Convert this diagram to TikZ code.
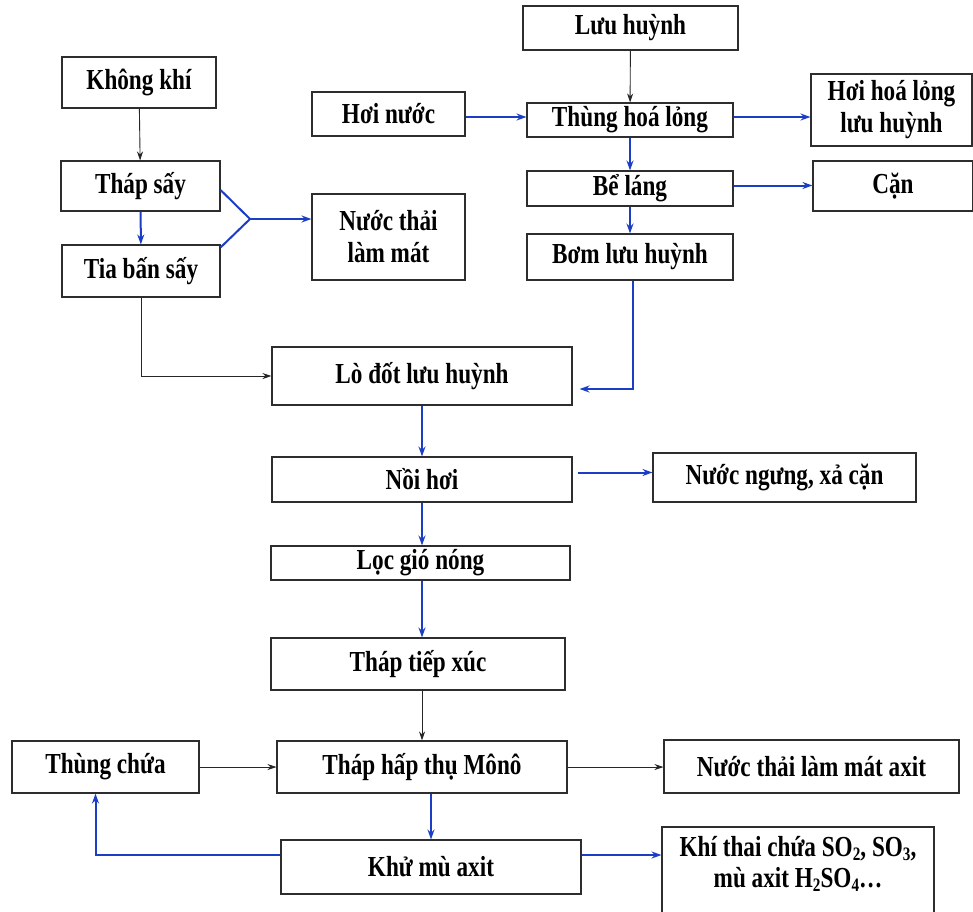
\documentclass[tikz,border=0pt]{standalone}
\usepackage{fontspec}
\setmainfont{Liberation Serif}[FakeStretch=0.8]
\usetikzlibrary{arrows.meta,calc}
\definecolor{flowblue}{RGB}{28,62,196}
\definecolor{edgegray}{RGB}{45,45,45}
\newcommand\lowsub[1]{\raisebox{-0.35ex}{\fontsize{19}{19}\selectfont #1}}
\begin{document}
\begin{tikzpicture}[x=1pt,y=-1pt,
  box/.style={draw=edgegray,line width=1.1pt,inner sep=0pt,align=center,
    font=\bfseries\fontsize{29}{32}\selectfont},
  txt/.style={inner sep=0pt,align=center,font=\bfseries\fontsize{29}{31}\selectfont},
  blk/.style={draw=black!85,line width=0.9pt,-{Stealth[length=9pt,width=6pt]}},
  blu/.style={draw=flowblue,line width=2pt,-{Stealth[length=10pt,width=7pt]}},
  bluline/.style={draw=flowblue,line width=2pt}]

\fill[white] (0,0) rectangle (973,911);
\useasboundingbox (0,0) rectangle (973,911);

% left column: air drying
\node[box,minimum width=154pt,minimum height=51pt] (kk) at (139,82.5) {Không khí};
\node[box,minimum width=159pt,minimum height=50pt] (ts) at (140.5,186) {Tháp sấy};
\node[box,minimum width=158pt,minimum height=52pt] (tbs) at (141,271) {Tia bấn sấy};
\node[box,minimum width=153pt,minimum height=44pt] (hn) at (388.5,114) {Hơi nước};
\node[box,minimum width=153pt,minimum height=86pt] (ntlm) at (388.5,237) {Nước thải\\làm mát};

% sulphur melting line
\node[box,minimum width=215pt,minimum height=44pt] (lh) at (630.5,28) {Lưu huỳnh};
\node[box,minimum width=206pt,minimum height=34pt] (thl) at (630,120) {Thùng hoá lỏng};
\node[box,minimum width=161pt,minimum height=72pt] (hhl) at (891.5,110) {Hơi hoá lỏng\\lưu huỳnh};
\node[box,minimum width=206pt,minimum height=35pt] (bl) at (630,188.5) {Bể láng};
\node[box,minimum width=160pt,minimum height=50pt] (can) at (893,186) {Cặn};
\node[box,minimum width=206pt,minimum height=46pt] (blh) at (630,257) {Bơm lưu huỳnh};

% main column
\node[box,minimum width=300pt,minimum height=58pt] (ld) at (422,376) {Lò đốt lưu huỳnh};
\node[box,minimum width=300pt,minimum height=45pt] (nh) at (422,479.5) {Nồi hơi};
\node[box,minimum width=263pt,minimum height=49pt] (nn) at (784.5,477.5) {Nước ngưng, xả cặn};
\node[box,minimum width=299pt,minimum height=34pt] (lgn) at (420.5,563) {Lọc gió nóng};
\node[box,minimum width=294pt,minimum height=52pt] (ttx) at (418,664) {Tháp tiếp xúc};

% absorption
\node[box,minimum width=187pt,minimum height=52pt] (tc) at (105.5,767) {Thùng chứa};
\node[box,minimum width=290pt,minimum height=52pt] (thtm) at (422,767) {Tháp hấp thụ Mônô};
\node[box,minimum width=295pt,minimum height=53pt] (ntax) at (811.5,766.5) {Nước thải làm mát axit};
\node[box,minimum width=300pt,minimum height=54pt] (kma) at (431,867) {Khử mù axit};
\node[box,minimum width=272pt,minimum height=88pt] (ktc) at (798,871) {};
\node[txt] (ktctext) at (798,864) {Khí thai chứa SO\lowsub{2}, SO\lowsub{3},\\mù axit H\lowsub{2}SO\lowsub{4}…};

% connectors: drying
\draw[blk] (kk) -- (ts);
\draw[blu] (ts) -- (tbs);
\coordinate (fork) at (250,219);
\draw[bluline] ($(ts.east)+(0,4)$) -- (fork) -- ($(tbs.north east)+(0,3)$);
\draw[blu] (fork) -- (fork -| ntlm.west);
\draw[blk] (tbs.south) |- (ld.west);

% connectors: sulphur
\draw[blk] (lh) -- (thl);
\draw[blu] ($(hn.east)+(0,3)$) coordinate (hnout) -- (hnout -| thl.west);
\draw[blu] ($(thl.east)+(0,-3)$) coordinate (thlout) -- (thlout -| hhl.west);
\draw[blu] (thl) -- (bl);
\draw[blu] ($(bl.east)+(0,-3)$) coordinate (blout) -- (blout -| can.west);
\draw[blu] (bl) -- (blh);
\draw[blu] ($(blh.south)+(3,0)$) |- ($(ld.east)+(7,13)$);

% connectors: main column
\draw[blu] (ld) -- (nh);
\draw[blu] ($(nh.east)+(5,-7)$) coordinate (nhout) -- (nhout -| nn.west);
\draw[blu] (nh.south) -- (nh.south |- lgn.north);
\draw[blu] (nh.south |- lgn.south) -- (nh.south |- ttx.north);
\draw[blk] (thtm.north |- ttx.south) -- (thtm.north);

% connectors: absorption
\draw[blk] (tc) -- (thtm);
\draw[blk] (thtm.east) -- (thtm.east -| ntax.west);
\draw[blu] (kma.north |- thtm.south) -- (kma.north);
\draw[blu] ($(kma.west)+(0,-12)$) -| ($(tc.south)+(-10,0)$);
\draw[blu] ($(kma.east)+(0,-12)$) coordinate (kmaout) -- (kmaout -| ktc.west);
\end{tikzpicture}
\end{document}
